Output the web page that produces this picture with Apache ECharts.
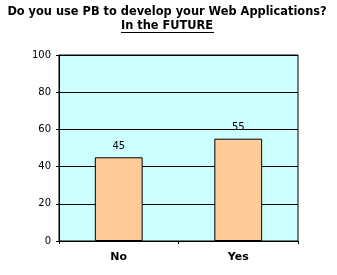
<!DOCTYPE html>
<html><head><meta charset="utf-8">
<script src="https://cdn.jsdelivr.net/npm/echarts@6/dist/echarts.min.js"></script>
<style>html,body{margin:0;padding:0;background:#fff}#c{width:337px;height:275px}</style>
</head><body><div id="c"></div>
<script>
var categories = ['No', 'Yes'];
var values = [45, 55];
var titleLine1 = 'Do you use PB to develop your Web Applications?';
var titleLine2 = 'In the FUTURE';

var chart = echarts.init(document.getElementById('c'), null, {renderer: 'canvas'});
chart.setOption({
  animation: false,
  backgroundColor: '#ffffff',
  title: {
    text: titleLine1 + '\n' + titleLine2,
    left: 167,
    top: 5,
    padding: 0,
    textAlign: 'center',
    textStyle: {fontFamily: 'DejaVu Sans', fontSize: 11.4, fontWeight: 'bold', color: '#000', lineHeight: 14}
  },
  graphic: [{
    type: 'line',
    shape: {x1: 121, y1: 32.5, x2: 214, y2: 32.5},
    style: {stroke: '#000', lineWidth: 1}
  }],
  grid: {left: 59, right: 39, top: 55, bottom: 34, show: true, backgroundColor: '#CCFFFF', borderColor: '#000', borderWidth: 1},
  xAxis: {
    type: 'category',
    data: categories,
    axisLine: {lineStyle: {color: '#000', width: 1}},
    axisTick: {show: true, length: 3, lineStyle: {color: '#000'}},
    axisLabel: {fontFamily: 'DejaVu Sans', fontSize: 11, fontWeight: 'bold', color: '#000', margin: 11}
  },
  yAxis: {
    type: 'value',
    min: 0, max: 100, interval: 20,
    axisLine: {show: true, lineStyle: {color: '#000', width: 1}},
    axisTick: {show: true, length: 3, lineStyle: {color: '#000'}},
    axisLabel: {fontFamily: 'DejaVu Sans', fontSize: 10, color: '#000', margin: 8},
    splitLine: {show: true, lineStyle: {color: '#000', width: 1}}
  },
  series: [{
    type: 'bar',
    data: values,
    barWidth: '40%',
    itemStyle: {color: '#FFCC99', borderColor: '#000', borderWidth: 1},
    label: {show: true, position: 'top', distance: 6, fontFamily: 'DejaVu Sans', fontSize: 10, color: '#000'}
  }]
});
</script></body></html>
